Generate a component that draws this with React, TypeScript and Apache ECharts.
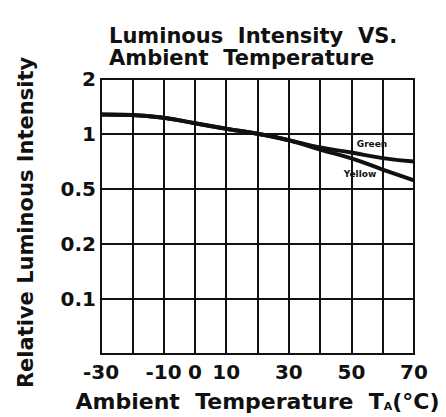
import React, { useEffect, useRef } from "react";
import * as echarts from "echarts";

const temperatures = [-30, -20, -10, 0, 10, 20, 30, 40, 50, 60, 70];
const greenIntensity = [1.28, 1.27, 1.227, 1.146, 1.068, 1.003, 0.925, 0.844, 0.792, 0.738, 0.707];
const yellowIntensity = [1.28, 1.27, 1.227, 1.146, 1.068, 1.003, 0.925, 0.822, 0.735, 0.639, 0.557];
// graph-paper rows, bottom to top
const yTickLabels = ["", "0.1", "0.2", "0.5", "1", "2"];
const xTickLabels = ["-30", "-10", "0", "10", "30", "50", "70"];
const seriesNames = ["Green", "Yellow"];

// the paper's rows between 0.5 and 2 are log2-spaced: 0.5 -> row 3, 1 -> row 4, 2 -> row 5
const rowOf = (v: number) => 4 + Math.log2(v);

const FONT = "DejaVu Sans";
const INK = "#111";

export default function App() {
  const ref = useRef<HTMLDivElement>(null);
  useEffect(() => {
    if (!ref.current) return;
    const chart = echarts.init(ref.current, null, { renderer: "svg" });
    const toData = (vals: number[]) => temperatures.map((t, i) => [t, rowOf(vals[i])]);
    chart.setOption({
      animation: false,
      backgroundColor: "#fff",
      title: {
        text: "Luminous  Intensity  VS.\nAmbient  Temperature",
        left: 109,
        top: 25,
        padding: 0,
        textStyle: {
          fontFamily: FONT,
          fontWeight: "bold",
          fontSize: 21,
          lineHeight: 22,
          color: INK,
        },
      },
      grid: {
        left: 101,
        right: 32,
        top: 79,
        bottom: 63,
        show: true,
        borderColor: INK,
        borderWidth: 2,
        containLabel: false,
      },
      xAxis: {
        type: "value",
        min: -30,
        max: 70,
        interval: 10,
        name: "Ambient  Temperature  T{sub|A}(°C)",
        nameLocation: "middle",
        nameGap: 36,
        nameTextStyle: {
          fontFamily: FONT,
          fontWeight: "bold",
          fontSize: 22,
          color: INK,
          rich: {
            sub: { fontFamily: FONT, fontWeight: "bold", fontSize: 11, color: INK, verticalAlign: "bottom", padding: [8, 0, 0, 0] },
          },
        },
        axisLine: { show: true, lineStyle: { color: INK, width: 2 } },
        axisTick: { show: false },
        splitLine: { show: true, lineStyle: { color: INK, width: 2 } },
        axisLabel: {
          margin: 8,
          fontFamily: FONT,
          fontWeight: "bold",
          fontSize: 20,
          color: INK,
          formatter: (v: number) => (xTickLabels.includes(String(v)) ? String(v) : ""),
        },
      },
      yAxis: {
        type: "value",
        min: 0,
        max: 5,
        interval: 1,
        name: "Relative Luminous Intensity",
        nameLocation: "middle",
        nameGap: 65,
        nameTextStyle: {
          fontFamily: FONT,
          fontWeight: "bold",
          fontSize: 21,
          color: INK,
          padding: [0, 12, 0, 0],
        },
        axisLine: { show: true, lineStyle: { color: INK, width: 2 } },
        axisTick: { show: false },
        splitLine: { show: true, lineStyle: { color: INK, width: 2 } },
        axisLabel: {
          margin: 5,
          fontFamily: FONT,
          fontWeight: "bold",
          fontSize: 20,
          color: INK,
          formatter: (v: number) => yTickLabels[Math.round(v)] ?? "",
        },
      },
      series: [
        {
          name: seriesNames[0],
          type: "line",
          data: toData(greenIntensity),
          smooth: true,
          symbol: "none",
          lineStyle: { color: INK, width: 4 },
        },
        {
          name: seriesNames[1],
          type: "line",
          data: toData(yellowIntensity),
          smooth: true,
          symbol: "none",
          lineStyle: { color: INK, width: 4 },
        },
      ],
      graphic: [
        {
          type: "text",
          x: 372,
          y: 143.5,
          style: {
            text: seriesNames[0],
            fontFamily: FONT,
            fontWeight: "bold",
            fontSize: 9,
            fill: INK,
            align: "center",
            verticalAlign: "middle",
          },
        },
        {
          type: "text",
          x: 360,
          y: 174,
          style: {
            text: seriesNames[1],
            fontFamily: FONT,
            fontWeight: "bold",
            fontSize: 9,
            fill: INK,
            align: "center",
            verticalAlign: "middle",
          },
        },
      ],
    });
    return () => chart.dispose();
  }, []);
  return (
    <div
      ref={ref}
      style={{ position: "fixed", left: 0, top: 0, width: 446, height: 417 }}
    />
  );
}
